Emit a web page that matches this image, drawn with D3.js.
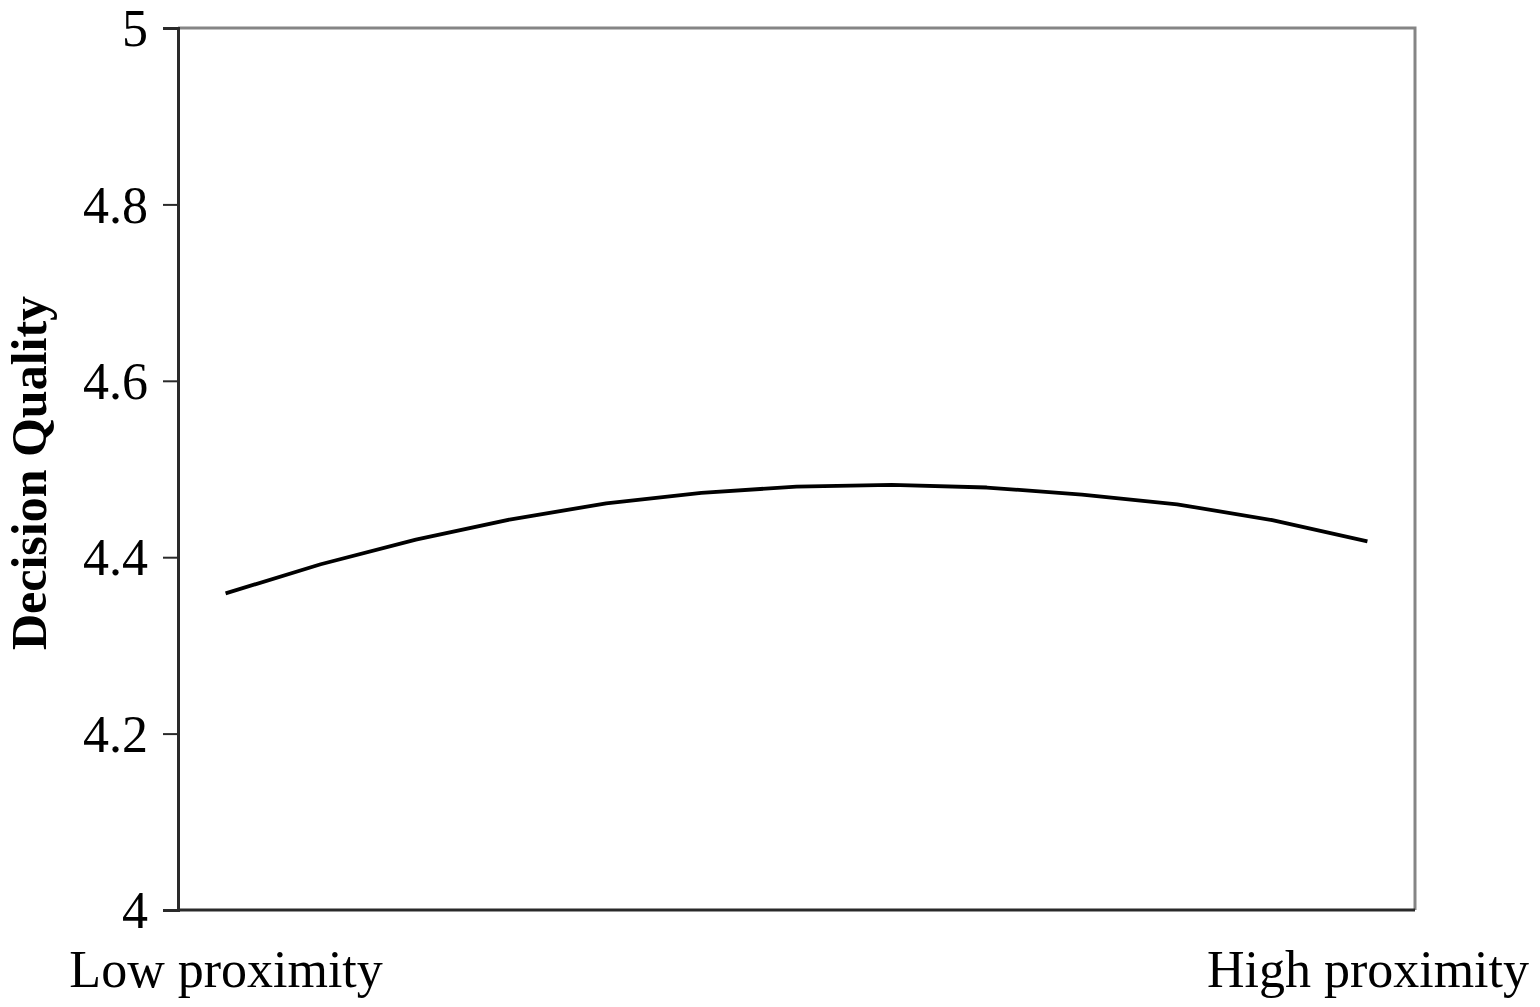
<!DOCTYPE html>
<html><head><meta charset="utf-8">
<script src="https://cdn.jsdelivr.net/npm/d3@7"></script>
<style>body{margin:0;background:#fff}svg{display:block}text{font-family:"Liberation Serif","Times New Roman",serif}</style>
</head><body>
<svg id="c" width="1540" height="1007"></svg>
<script>
const categories = ["Low proximity","","","","","","","","","","","","High proximity"];
const values = [4.359,4.392,4.420,4.443,4.461,4.473,4.480,4.482,4.479,4.471,4.460,4.442,4.418];
const yTicks = [4,4.2,4.4,4.6,4.8,5];
const yTickLabels = ["4","4.2","4.4","4.6","4.8","5"];
const yTitle = "Decision Quality";

const svg = d3.select("#c");
const L=178,R=1415,T=28,B=910;
const x = d3.scalePoint().domain(d3.range(categories.length)).range([L,R]).padding(0.5);
const y = d3.scaleLinear().domain([4,5]).range([B,T]);

// top/right frame
svg.append("path").attr("d",`M${L},${T}H${R}V${B}`).attr("fill","none").attr("stroke","#858585").attr("stroke-width",3);

const ya = svg.append("g").attr("transform",`translate(${L},0)`)
  .call(d3.axisLeft(y).tickValues(yTicks).tickFormat((d,i)=>yTickLabels[i]).tickSize(15).tickPadding(15));
ya.select(".domain").attr("stroke","#2a2a2a").attr("stroke-width",3);
ya.selectAll(".tick line").attr("stroke","#2a2a2a").attr("stroke-width",2);
ya.selectAll(".tick text").attr("font-size",52).attr("fill","#000").attr("dy","0.34em")
  .style("font-family","'Liberation Serif',serif");

const xa = svg.append("g").attr("transform",`translate(0,${B})`)
  .call(d3.axisBottom(x).tickSize(0).tickPadding(40).tickFormat(i=>categories[i]));
xa.select(".domain").attr("d",`M${L},0H${R}`).attr("stroke","#2a2a2a").attr("stroke-width",3);
xa.selectAll(".tick text").attr("font-size",52).attr("fill","#000")
  .style("font-family","'Liberation Serif',serif");

svg.append("text").attr("transform",`translate(46,${(T+B)/2+4}) rotate(-90)`)
  .attr("text-anchor","middle").attr("font-size",50).attr("font-weight","bold").text(yTitle);

svg.append("path").datum(values)
  .attr("d",d3.line().x((d,i)=>x(i)).y(d=>y(d)))
  .attr("fill","none").attr("stroke","#000").attr("stroke-width",3.8).attr("stroke-linejoin","round");
</script>
</body></html>
